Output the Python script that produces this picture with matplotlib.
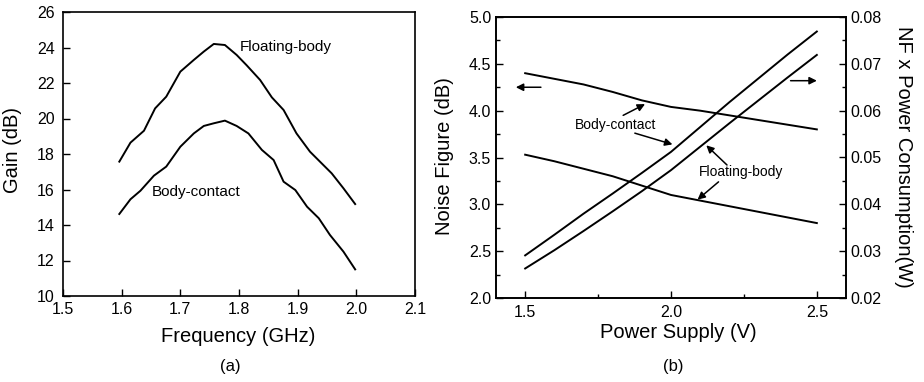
import matplotlib
matplotlib.use("Agg")
import matplotlib.pyplot as plt
from matplotlib.ticker import MultipleLocator

plt.rcParams['font.family'] = ['Liberation Sans', 'DejaVu Sans']

# --- (a) gain vs frequency ---
freq_fb = [1.596, 1.615, 1.638, 1.657, 1.676, 1.700, 1.723, 1.740, 1.757, 1.776, 1.796,
           1.813, 1.836, 1.856, 1.876, 1.898, 1.921, 1.941, 1.958, 1.978, 1.998]
gain_fb = [17.57, 18.64, 19.31, 20.57, 21.23, 22.64, 23.30, 23.77, 24.20, 24.14, 23.58,
           23.00, 22.17, 21.19, 20.48, 19.16, 18.13, 17.47, 16.91, 16.07, 15.18]
freq_bc = [1.596, 1.615, 1.632, 1.655, 1.676, 1.700, 1.723, 1.740, 1.757, 1.776, 1.796,
           1.816, 1.839, 1.859, 1.876, 1.896, 1.916, 1.936, 1.955, 1.978, 1.998]
gain_bc = [14.62, 15.45, 15.93, 16.78, 17.29, 18.41, 19.16, 19.58, 19.73, 19.88, 19.58,
           19.16, 18.23, 17.66, 16.44, 15.97, 15.03, 14.38, 13.44, 12.50, 11.50]

# --- (b) noise figure & NF x power vs supply ---
vdd = [1.5, 1.6, 1.7, 1.8, 1.9, 2.0, 2.1, 2.2, 2.3, 2.4, 2.5]
nf_bc = [4.40, 4.34, 4.28, 4.20, 4.11, 4.04, 4.00, 3.95, 3.90, 3.85, 3.80]
nf_fb = [3.53, 3.46, 3.38, 3.30, 3.20, 3.10, 3.04, 2.98, 2.92, 2.86, 2.80]
nfp_bc = [0.0291, 0.0335, 0.0380, 0.0423, 0.0467, 0.0512, 0.0565, 0.0618, 0.0669, 0.0720, 0.0769]
nfp_fb = [0.0263, 0.0302, 0.0343, 0.0385, 0.0428, 0.0473, 0.0523, 0.0573, 0.0622, 0.0671, 0.0719]

W, H = 924, 382
fig = plt.figure(figsize=(W / 100, H / 100), dpi=100)

def box(l, t, r, b):
    return [l / W, 1 - b / H, (r - l) / W, (b - t) / H]

lw = 1.4
tick_fs = 11.5
lab_fs = 14.5
ann_fs = 10

# ================= (a) =================
ax1 = fig.add_axes(box(63, 12, 415, 296))
ax1.plot(freq_fb, gain_fb, color='k', lw=lw)
ax1.plot(freq_bc, gain_bc, color='k', lw=lw)
ax1.set_xlim(1.5, 2.1)
ax1.set_ylim(10, 26)
ax1.xaxis.set_major_locator(MultipleLocator(0.1))
ax1.yaxis.set_major_locator(MultipleLocator(2))
ax1.tick_params(direction='in', length=5, width=1, labelsize=tick_fs)
ax1.tick_params(axis='y', pad=6)
ax1.tick_params(axis='x', pad=4)
ax1.tick_params(top=False, right=False)
ax1.xaxis.set_major_formatter(plt.FuncFormatter(lambda v, p: f"{v:.1f}"))
ax1.text(1.802, 24.0, "Floating-body", fontsize=11, va='center', ha='left')
ax1.text(1.652, 15.88, "Body-contact", fontsize=11, va='center', ha='left')
for s in ax1.spines.values():
    s.set_linewidth(1.2)

fig.text(13 / W, 1 - 150 / H, "Gain (dB)", rotation=90, fontsize=lab_fs, ha='center', va='center')
fig.text(238 / W, 1 - 337 / H, "Frequency (GHz)", fontsize=lab_fs, ha='center', va='center')
fig.text(230 / W, 1 - 367 / H, "(a)", fontsize=12, ha='center', va='center')

# ================= (b) =================
ax2 = fig.add_axes(box(496, 17, 846, 298))
ax2.plot(vdd, nf_bc, color='k', lw=lw)
ax2.plot(vdd, nf_fb, color='k', lw=lw)
ax2.set_xlim(1.4, 2.6)
ax2.set_ylim(2.0, 5.0)
ax2.xaxis.set_major_locator(MultipleLocator(0.5))
ax2.xaxis.set_minor_locator(MultipleLocator(0.25))
ax2.yaxis.set_major_locator(MultipleLocator(0.5))
ax2.yaxis.set_minor_locator(MultipleLocator(0.25))
ax2.tick_params(which='both', direction='in', width=1, labelsize=tick_fs, top=False, right=False)
ax2.tick_params(which='major', length=5)
ax2.tick_params(which='minor', length=3)
ax2.tick_params(axis='x', pad=5)
ax2.xaxis.set_major_formatter(plt.FuncFormatter(lambda v, p: f"{v:.1f}"))
ax2.yaxis.set_major_formatter(plt.FuncFormatter(lambda v, p: f"{v:.1f}"))

ax3 = ax2.twinx()
ax3.plot(vdd, nfp_bc, color='k', lw=lw)
ax3.plot(vdd, nfp_fb, color='k', lw=lw)
ax3.set_ylim(0.02, 0.08)
ax3.yaxis.set_major_locator(MultipleLocator(0.01))
ax3.yaxis.set_minor_locator(MultipleLocator(0.005))
ax3.tick_params(which='both', direction='in', width=1, labelsize=tick_fs)
ax3.tick_params(which='major', length=5)
ax3.tick_params(which='minor', length=3)
ax3.yaxis.set_major_formatter(plt.FuncFormatter(lambda v, p: f"{v:.2f}"))
for a in (ax2, ax3):
    for s in a.spines.values():
        s.set_linewidth(1.2)

arw = dict(arrowstyle='-|>', color='k', lw=1.1, mutation_scale=11, shrinkA=0, shrinkB=0)
ax2.text(1.672, 3.85, "Body-contact", fontsize=ann_fs, va='center', ha='left')
ax2.annotate("", xy=(1.911, 4.07), xytext=(1.836, 3.95), arrowprops=arw)
ax2.annotate("", xy=(2.005, 3.64), xytext=(1.876, 3.76), arrowprops=arw)
ax2.text(2.094, 3.34, "Floating-body", fontsize=ann_fs, va='center', ha='left')
ax2.annotate("", xy=(2.121, 3.63), xytext=(2.192, 3.42), arrowprops=arw)
ax2.annotate("", xy=(2.091, 3.05), xytext=(2.163, 3.24), arrowprops=arw)
ax2.annotate("", xy=(1.468, 4.25), xytext=(1.554, 4.25), arrowprops=arw)
ax2.annotate("", xy=(2.50, 4.32), xytext=(2.41, 4.32), arrowprops=arw)

fig.text(445 / W, 1 - 156 / H, "Noise Figure (dB)", rotation=90, fontsize=lab_fs, ha='center', va='center')
fig.text(904 / W, 1 - 157 / H, "NF x Power Consumption(W)", rotation=-90, fontsize=lab_fs, ha='center', va='center')
fig.text(678 / W, 1 - 332 / H, "Power Supply (V)", fontsize=lab_fs, ha='center', va='center')
fig.text(673 / W, 1 - 367 / H, "(b)", fontsize=12, ha='center', va='center')

fig.savefig("out.png", dpi=100)
